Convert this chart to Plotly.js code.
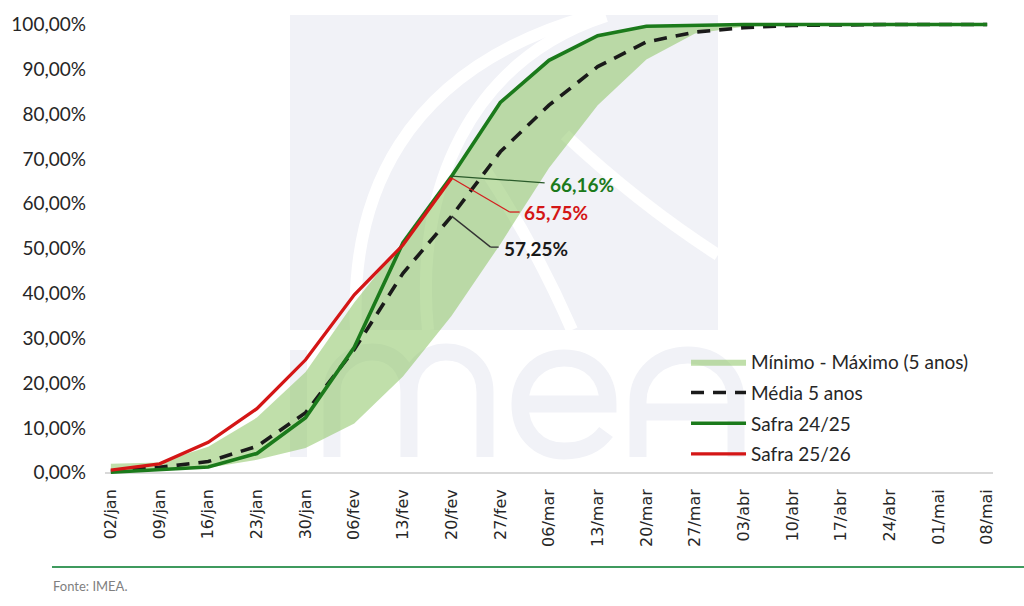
<!DOCTYPE html>
<html>
<head>
<meta charset="utf-8">
<script src="https://cdn.plot.ly/plotly-3.0.1.min.js"></script>
<style>
html,body{margin:0;padding:0;background:#ffffff;}
#chart{width:1024px;height:606px;}
</style>
</head>
<body>
<div id="chart"></div>
<script>
// ---------------- data ----------------
const categories = ['02/jan','09/jan','16/jan','23/jan','30/jan','06/fev','13/fev','20/fev','27/fev',
  '06/mar','13/mar','20/mar','27/mar','03/abr','10/abr','17/abr','24/abr','01/mai','08/mai'];
const minimo    = [0.1, 0.6, 1.1, 2.9, 5.5, 11.0, 21.5, 35.0, 51.0, 68.0, 82.0, 92.2, 98.0, 99.5, 99.9, 100, 100, 100, 100];
const maximo    = [2.0, 2.3, 5.8, 12.3, 22.5, 38.0, 51.5, 66.2, 82.6, 92.0, 97.5, 99.6, 100, 100, 100, 100, 100, 100, 100];
const media     = [0.3, 1.2, 2.5, 5.9, 13.4, 27.5, 44.5, 57.25, 71.6, 82.0, 90.6, 96.1, 98.3, 99.3, 99.8, 100, 100, 100, 100];
const safra2425 = [0.1, 0.6, 1.3, 4.3, 12.3, 28.0, 51.3, 66.16, 82.6, 92.0, 97.5, 99.6, 99.9, 100, 100, 100, 100, 100, 100];
const safra2526 = [0.6, 2.0, 6.8, 14.3, 25.2, 39.7, 50.8, 65.75];
const yTickVals = [0, 10, 20, 30, 40, 50, 60, 70, 80, 90, 100];
const yTickText = ['0,00%','10,00%','20,00%','30,00%','40,00%','50,00%','60,00%','70,00%','80,00%','90,00%','100,00%'];
const seriesNames = ['Mínimo - Máximo (5 anos)', 'Média 5 anos', 'Safra 24/25', 'Safra 25/26'];
const labelIndex = 7; // 20/fev
const sourceText = 'Fonte: IMEA.';

// ---------------- styles ----------------
const GREEN = '#1b7a1b', RED = '#d41616', BLACK = '#1a1a1a';
const fmt = v => v.toFixed(2).replace('.', ',') + '%';

// plot area in pixels (for decoration placement only)
const M = {l:105, r:31, t:20, b:131};
const PW = 1024 - M.l - M.r, PH = 606 - M.t - M.b;
const PX = px => ((px - M.l) / PW).toFixed(4);
const PY = py => ((606 - M.b - py) / PH).toFixed(4);
function pathFromPixels(cmds){
  return cmds.map(c => {
    const L = c[0];
    if (L === 'Z') return 'Z';
    if (L === 'H') return 'H' + PX(c[1]);
    if (L === 'V') return 'V' + PY(c[1]);
    const pts = [];
    for (let i = 1; i < c.length; i += 2) pts.push(PX(c[i]) + ',' + PY(c[i+1]));
    return L + pts.join(' ');
  }).join(' ');
}

const WM = '#f1f2f7';
const shapes = [];
// watermark background block
shapes.push({type:'rect', xref:'paper', yref:'paper', layer:'below',
  x0:PX(290), x1:PX(718), y0:PY(330), y1:PY(15), fillcolor:WM, line:{width:0}});
// white swooshes
[
  [['M',356,330],['C',350,200, 400,70, 590,16]],
  [['M',428,330],['C',414,190, 470,60, 606,16]],
  [['M',484,168],['Q',535,245, 572,330]],
  [['M',565,135],['Q',640,205, 718,255]]
].forEach(p => shapes.push({type:'path', xref:'paper', yref:'paper', layer:'below',
  path:pathFromPixels(p), line:{color:'#ffffff', width:12}}));
// watermark letters
shapes.push({type:'rect', xref:'paper', yref:'paper', layer:'below',
  x0:PX(290), x1:PX(307), y0:PY(457), y1:PY(350), fillcolor:WM, line:{width:0}});
[
  [['M',332,457],['V',392],['C',332,368, 352,352, 372,352],['C',394,352, 409,368, 409,392],['V',457],
   ['M',409,392],['C',409,368, 426,352, 446,352],['C',468,352, 485,368, 485,392],['V',457]],
  [['M',520,404],['H',608],['C',608,376, 590,358, 564,358],['C',538,358, 520,378, 520,404],
   ['C',520,432, 538,451, 564,451],['C',583,451, 597,444, 606,432]],
  [['M',638,457],['V',402],['C',638,374, 660,355, 688,355],['C',716,355, 736,374, 736,402],['V',457],
   ['M',638,412],['H',736]]
].forEach(p => shapes.push({type:'path', xref:'paper', yref:'paper', layer:'below',
  path:pathFromPixels(p), line:{color:WM, width:17}}));

// leader lines (pixel offsets from the labelled point)
function leader(val, pts, color){
  for (let i = 0; i < pts.length - 1; i++){
    shapes.push({type:'line', xref:'x', yref:'y', xsizemode:'pixel', ysizemode:'pixel',
      xanchor:categories[labelIndex], yanchor:val,
      x0:pts[i][0], y0:pts[i][1], x1:pts[i+1][0], y1:pts[i+1][1],
      line:{color:color, width:1.3}});
  }
}
leader(safra2425[labelIndex], [[0,0],[93,-6.6]], '#2a5a2a');
leader(safra2526[labelIndex], [[0,0],[58,-34],[68,-34]], '#d42020');
leader(media[labelIndex], [[0,0],[39,-31],[47,-31]], '#333333');

// bottom rule
shapes.push({type:'line', xref:'paper', yref:'paper', x0:PX(52), x1:PX(1024), y0:PY(567), y1:PY(567),
  line:{color:'#3f9a5e', width:2}});

const annFont = c => ({family:'Lato, sans-serif', size:19, color:c, weight:'bold'});
const annotations = [
  {x:categories[labelIndex], y:safra2425[labelIndex], xref:'x', yref:'y', showarrow:false,
   text:'<b>'+fmt(safra2425[labelIndex])+'</b>', xanchor:'left', yanchor:'middle', xshift:96, yshift:-8.5, font:annFont(GREEN)},
  {x:categories[labelIndex], y:safra2526[labelIndex], xref:'x', yref:'y', showarrow:false,
   text:'<b>'+fmt(safra2526[labelIndex])+'</b>', xanchor:'left', yanchor:'middle', xshift:70, yshift:-34.5, font:annFont(RED)},
  {x:categories[labelIndex], y:media[labelIndex], xref:'x', yref:'y', showarrow:false,
   text:'<b>'+fmt(media[labelIndex])+'</b>', xanchor:'left', yanchor:'middle', xshift:50, yshift:-32, font:annFont(BLACK)},
  {x:PX(51), y:PY(586), xref:'paper', yref:'paper', showarrow:false, text:sourceText,
   xanchor:'left', yanchor:'middle', font:{family:'Lato, sans-serif', size:13, color:'#7f7f7f'}}
];

const traces = [
  {x:categories, y:minimo, type:'scatter', mode:'lines', line:{width:0, color:'rgba(0,0,0,0)'},
   showlegend:false, hoverinfo:'skip', legendgroup:'g0'},
  {x:categories, y:maximo, type:'scatter', mode:'lines', fill:'tonexty',
   fillcolor:'rgba(140,196,100,0.55)', line:{width:0, color:'rgba(140,196,100,0.55)'},
   name:seriesNames[0], legendgroup:'g0'},
  {x:categories, y:media, type:'scatter', mode:'lines', name:seriesNames[1],
   line:{color:BLACK, width:3.6, dash:'13px,9px'}, legendgroup:'g1'},
  {x:categories, y:safra2425, type:'scatter', mode:'lines', name:seriesNames[2],
   line:{color:GREEN, width:3.6}, legendgroup:'g2'},
  {x:categories.slice(0, safra2526.length), y:safra2526, type:'scatter', mode:'lines', name:seriesNames[3],
   line:{color:RED, width:3.3}, legendgroup:'g3'}
];

const layout = {
  width:1024, height:606,
  margin:M,
  paper_bgcolor:'#ffffff', plot_bgcolor:'rgba(0,0,0,0)',
  font:{family:'Lato, sans-serif', color:'#262626'},
  showlegend:true,
  legend:{x:PX(686), y:PY(343), xanchor:'left', yanchor:'top', bgcolor:'rgba(0,0,0,0)',
    font:{family:'Lato, sans-serif', size:19, color:'#262626'}, itemwidth:55, tracegroupgap:3,
    traceorder:'grouped'},
  xaxis:{type:'category', range:[-0.12, 18.12], showgrid:false, zeroline:false, showline:false,
    ticks:'', tickangle:-90, ticklabelstandoff:10,
    tickfont:{family:'DejaVu Sans, sans-serif', size:16, color:'#262626'}, fixedrange:true},
  yaxis:{range:[-0.5, 101], showgrid:false, zeroline:true, zerolinecolor:'#d9d9d9', zerolinewidth:1.5,
    showline:false, ticks:'', tickmode:'array', tickvals:yTickVals, ticktext:yTickText,
    ticklabelstandoff:18, tickfont:{family:'Lato, sans-serif', size:19, color:'#262626'}, fixedrange:true},
  shapes:shapes,
  annotations:annotations
};

Plotly.newPlot('chart', traces, layout, {staticPlot:true, displayModeBar:false});
</script>
</body>
</html>
